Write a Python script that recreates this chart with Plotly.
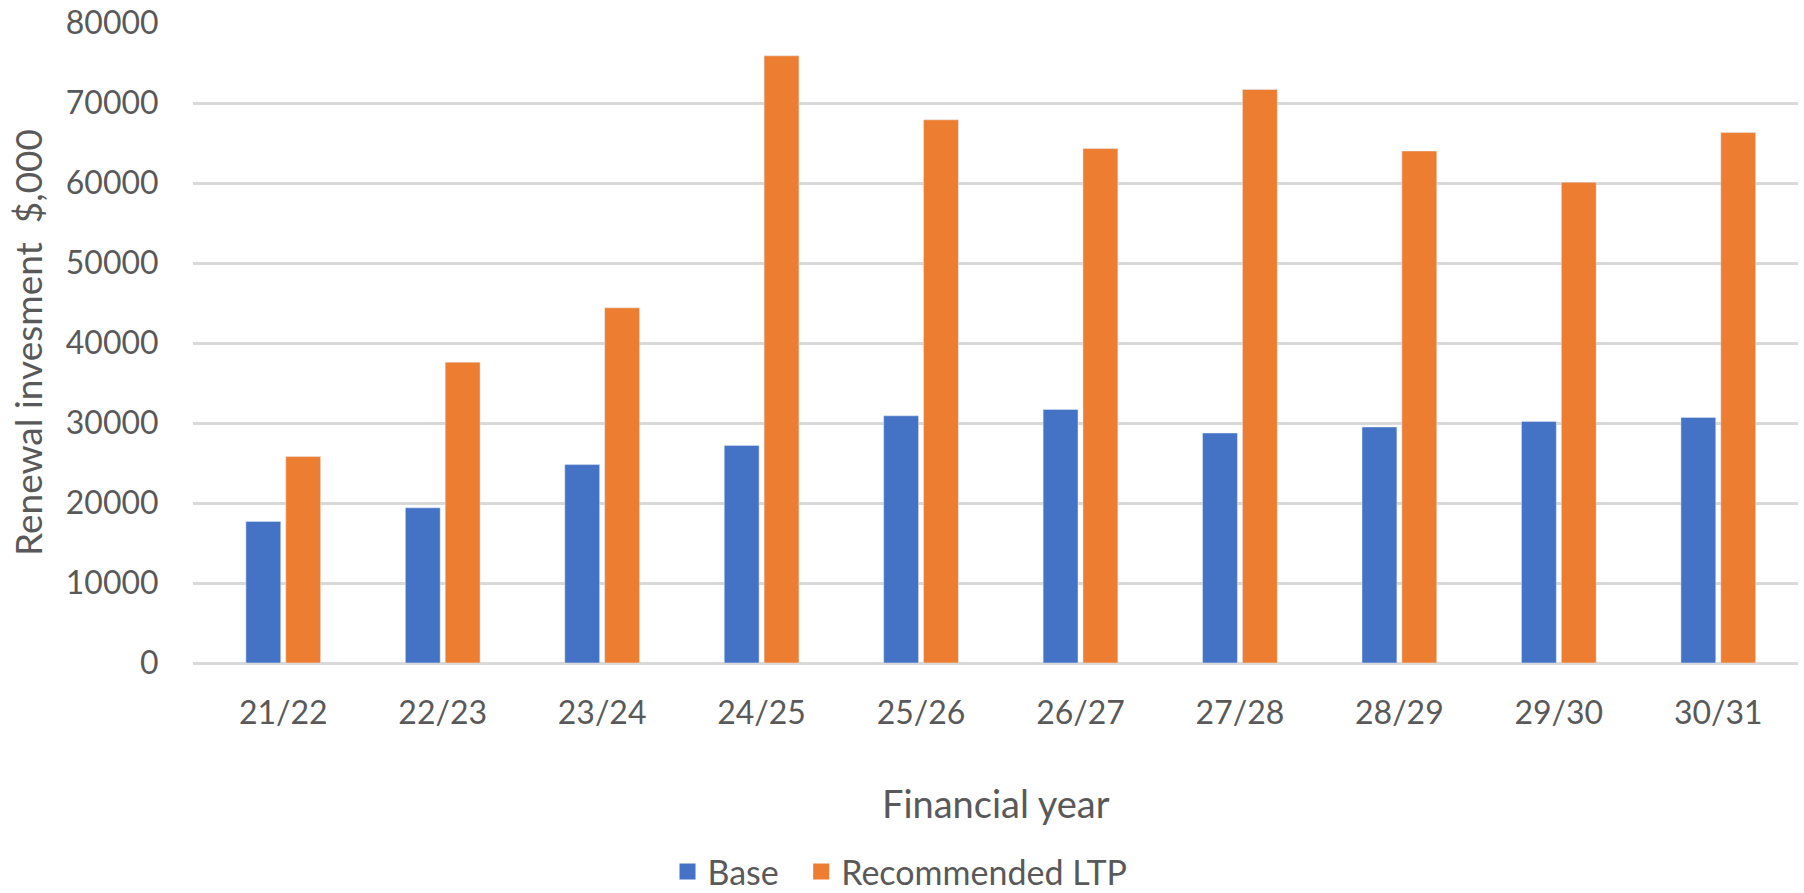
import plotly.graph_objects as go

years = ["21/22", "22/23", "23/24", "24/25", "25/26", "26/27", "27/28", "28/29", "29/30", "30/31"]
base = [17700, 19400, 24800, 27200, 30900, 31700, 28750, 29500, 30200, 30700]
recommended = [25800, 37600, 44400, 75900, 67900, 64300, 71700, 64000, 60100, 66300]
y_ticks = [0, 10000, 20000, 30000, 40000, 50000, 60000, 70000, 80000]

FONT = "Lato"
TXT = "#595959"
GRID = "#D9D9D9"
BLUE = "#4472C4"
ORANGE = "#ED7D31"

W, H = 1804, 893
L, T = 193, 23
PLOT_R, PLOT_B = 1798, 663
R, B = W - PLOT_R, H - PLOT_B
pw, ph = W - L - R, H - T - B

def px(x):  # pixel x -> paper
    return (x - L) / pw

def py(y):  # pixel y -> paper
    return (PLOT_B - y) / ph

fig = go.Figure()
fig.add_trace(go.Bar(name="Base", x=years, y=base, marker=dict(color=BLUE),
                     legendgroup="b", showlegend=False))
fig.add_trace(go.Bar(name="Recommended LTP", x=years, y=recommended, marker=dict(color=ORANGE),
                     legendgroup="r", showlegend=False))
# legend entries with larger square swatches
fig.add_trace(go.Scatter(name="Base\u00a0\u00a0", x=[years[0]], y=[None], mode="markers",
                         marker=dict(symbol="square", size=16, color=BLUE),
                         legendgroup="b", hoverinfo="skip"))
fig.add_trace(go.Scatter(name="Recommended LTP", x=[years[0]], y=[None], mode="markers",
                         marker=dict(symbol="square", size=16, color=ORANGE),
                         legendgroup="r", hoverinfo="skip"))

fig.update_layout(
    width=W, height=H,
    margin=dict(l=L, r=R, t=T, b=B, pad=0),
    paper_bgcolor="white", plot_bgcolor="white",
    barmode="group", bargap=0.50, bargroupgap=0.125,
    font=dict(family=FONT, color=TXT),
    legend=dict(orientation="h", xref="container", yref="container",
                x=900 / W, xanchor="center", y=1 - 872 / H, yanchor="middle",
                font=dict(family=FONT, size=34, color=TXT), itemwidth=30,
                tracegroupgap=0, bgcolor="rgba(0,0,0,0)"),
    annotations=[
        dict(text="Renewal invesment  $,000", xref="paper", yref="paper",
             x=px(27), y=py(343), xanchor="center", yanchor="middle", textangle=-90,
             showarrow=False, font=dict(family=FONT, size=37, color=TXT)),
        dict(text="Financial year", xref="paper", yref="paper",
             x=px(996), y=py(803), xanchor="center", yanchor="middle",
             showarrow=False, font=dict(family=FONT, size=38, color=TXT)),
    ],
)
fig.update_xaxes(showline=False, showgrid=False, ticks="outside", ticklen=0, tickcolor="white",
                 tickfont=dict(family=FONT, size=32, color=TXT), ticklabelstandoff=22,
                 automargin=False)
fig.update_yaxes(range=[0, 80000], tickvals=y_ticks, ticktext=[str(v) for v in y_ticks],
                 showgrid=True, gridcolor=GRID, gridwidth=3,
                 zeroline=True, zerolinecolor=GRID, zerolinewidth=3, showline=False,
                 ticks="outside", ticklen=0, tickcolor="white",
                 tickfont=dict(family=FONT, size=32, color=TXT), ticklabelstandoff=27,
                 ticklabeloverflow="allow", automargin=False)

fig.write_html("out.html", config={"displayModeBar": False},
               post_script="document.body.style.margin='0';")
